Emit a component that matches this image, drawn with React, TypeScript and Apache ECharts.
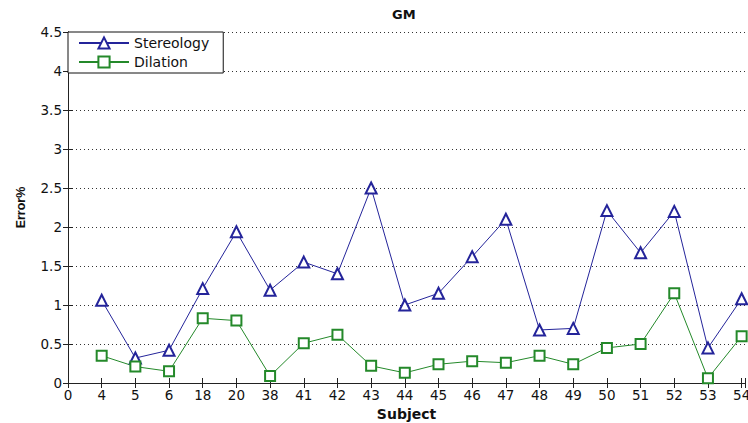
import React, { useEffect, useRef } from 'react';
import * as echarts from 'echarts';

const subjects = ['4', '5', '6', '18', '20', '38', '41', '42', '43', '44', '45', '46', '47', '48', '49', '50', '51', '52', '53', '54'];
const xTickLabels = ['0', ...subjects];
const stereology = [1.06, 0.32, 0.42, 1.21, 1.94, 1.19, 1.55, 1.40, 2.50, 1.00, 1.15, 1.62, 2.10, 0.68, 0.70, 2.21, 1.67, 2.20, 0.45, 1.08];
const dilation = [0.35, 0.21, 0.15, 0.83, 0.80, 0.09, 0.51, 0.62, 0.22, 0.13, 0.24, 0.28, 0.26, 0.35, 0.24, 0.45, 0.50, 1.15, 0.06, 0.60];
const seriesNames = ['Stereology', 'Dilation'];
const titleText = 'GM';
const xName = 'Subject';
const yName = 'Error%';

const BLUE = '#24249a';
const GREEN = '#24892a';
const TICK_FONT = 'DejaVu Sans';

export default function App() {
  const ref = useRef<HTMLDivElement>(null);
  useEffect(() => {
    if (!ref.current) return;
    const chart = echarts.init(ref.current, undefined, { renderer: 'svg' });
    const xFormatter = (v: number) => {
      const i = Math.round(v);
      return Math.abs(v - i) < 1e-6 && i >= 0 && i < xTickLabels.length ? xTickLabels[i] : '';
    };
    chart.setOption({
      animation: false,
      backgroundColor: '#ffffff',
      title: {
        text: titleText,
        left: 392,
        top: 8,
        padding: 0,
        textStyle: { fontFamily: TICK_FONT, fontSize: 13, fontWeight: 'bold', color: '#111' },
      },
      legend: {
        orient: 'vertical',
        left: 68,
        top: 32,
        padding: [4, 14, 4, 10],
        itemWidth: 50,
        itemHeight: 14,
        itemGap: 5,
        borderColor: '#111',
        borderWidth: 1,
        backgroundColor: '#ffffff',
        borderRadius: 0,
        textStyle: { fontFamily: TICK_FONT, fontSize: 14, color: '#111' },
        data: seriesNames,
      },
      grid: {
        left: 68,
        top: 32,
        right: 3,
        bottom: 40,
        show: false,
        containLabel: false,
        outerBoundsMode: 'none',
      },
      xAxis: [
        {
          type: 'value',
          position: 'bottom',
          min: 0,
          max: 20.1,
          interval: 1,
          name: xName,
          nameLocation: 'middle',
          nameGap: 20,
          nameTextStyle: { fontFamily: TICK_FONT, fontSize: 14, fontWeight: 'bold', color: '#111' },
          axisLine: { show: true, lineStyle: { color: '#222', width: 1 } },
          axisTick: { show: true, inside: true, length: 5, lineStyle: { color: '#222' } },
          axisLabel: { show: true, margin: 5, formatter: xFormatter, fontFamily: TICK_FONT, fontSize: 13.5, color: '#111' },
          splitLine: { show: false },
        },
        {
          type: 'value',
          position: 'top',
          min: 0,
          max: 20.1,
          interval: 1,
          axisLine: { show: true, lineStyle: { color: '#222', width: 1 } },
          axisTick: { show: true, inside: true, length: 5, lineStyle: { color: '#222' } },
          axisLabel: { show: false },
          splitLine: { show: false },
        },
      ],
      yAxis: [
        {
          type: 'value',
          position: 'left',
          min: 0,
          max: 4.5,
          interval: 0.5,
          name: yName,
          nameLocation: 'middle',
          nameGap: 41,
          nameRotate: 90,
          nameTextStyle: { fontFamily: 'Liberation Sans', fontSize: 12.5, fontWeight: 'bold', color: '#111' },
          axisLine: { show: true, lineStyle: { color: '#222', width: 1 } },
          axisTick: { show: true, inside: true, length: 5, lineStyle: { color: '#222' } },
          axisLabel: { show: true, margin: 6, fontFamily: TICK_FONT, fontSize: 13.5, color: '#111' },
          splitLine: { show: true, lineStyle: { color: '#333', width: 1, type: [1, 3] } },
        },
        {
          type: 'value',
          position: 'right',
          min: 0,
          max: 4.5,
          interval: 0.5,
          axisLine: { show: true, lineStyle: { color: '#222', width: 1 } },
          axisTick: { show: true, inside: true, length: 5, lineStyle: { color: '#222' } },
          axisLabel: { show: false },
          splitLine: { show: false },
        },
      ],
      series: [
        {
          name: seriesNames[0],
          type: 'line',
          xAxisIndex: 0,
          yAxisIndex: 0,
          data: stereology.map((v, i) => [i + 1, v]),
          symbol: 'emptyTriangle',
          symbolSize: 11,
          color: BLUE,
          lineStyle: { color: BLUE, width: 1 },
          itemStyle: { color: BLUE, borderColor: BLUE, borderWidth: 1 },
        },
        {
          name: seriesNames[1],
          type: 'line',
          xAxisIndex: 0,
          yAxisIndex: 0,
          data: dilation.map((v, i) => [i + 1, v]),
          symbol: 'emptyRect',
          symbolSize: 10,
          color: GREEN,
          lineStyle: { color: GREEN, width: 1 },
          itemStyle: { color: GREEN, borderColor: GREEN, borderWidth: 1 },
        },
      ],
    });
    return () => chart.dispose();
  }, []);
  return (
    <div
      ref={ref}
      style={{ position: 'absolute', left: 0, top: 0, width: 748, height: 423, background: '#fff' }}
    />
  );
}
